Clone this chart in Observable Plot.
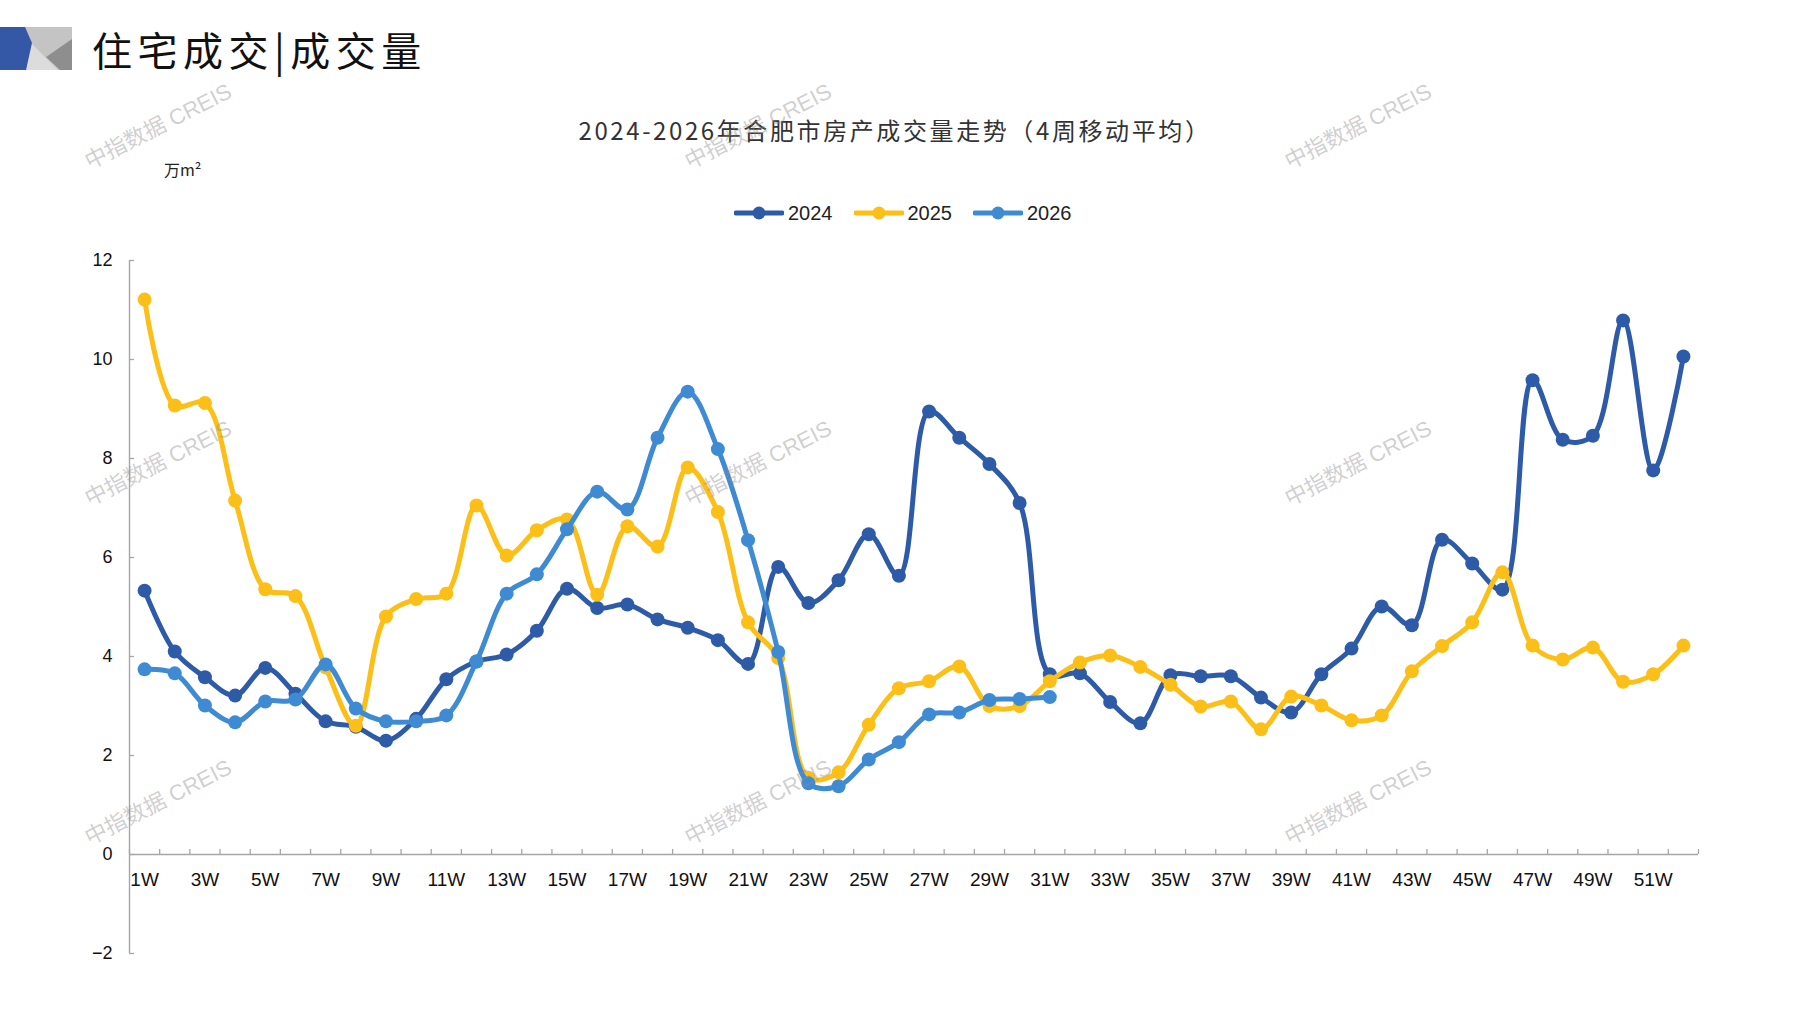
<!DOCTYPE html>
<html>
<head>
<meta charset="utf-8">
<script src="https://cdn.jsdelivr.net/npm/d3@7"></script>
<script src="https://cdn.jsdelivr.net/npm/@observablehq/plot@0.6"></script>
<style>
  html, body { margin: 0; padding: 0; background: #fff; }
  #page { position: relative; width: 1797px; height: 1010px; overflow: hidden; background: #fff; font-family: "Noto Sans CJK SC", "Liberation Sans", sans-serif; }
  .abs { position: absolute; }
  #title { left: 92px; top: 26px; font-size: 40px; line-height: 46px; letter-spacing: 5.5px; color: #111; font-weight: 400; }
  #ctitle { left: 0; width: 1790px; top: 114px; text-align: center; font-size: 24px; line-height: 32px; letter-spacing: 2.6px; color: #333; }
  #unit { left: 164px; top: 158px; font-size: 16px; line-height: 22px; color: #222; }
  #legend { left: 734px; top: 200px; height: 26px; display: flex; align-items: center; font-family: "Liberation Sans Narrow", "Liberation Sans", sans-serif; font-size: 20px; color: #222; }
  .item { display: flex; align-items: center; margin-right: 21px; }
  .item svg { margin-right: 4px; }
  #chart { left: 0; top: 240px; }
  .wm { position: absolute; font-family: "Liberation Sans", "Noto Sans CJK SC", sans-serif; font-size: 22px; color: rgba(140,140,140,0.42); transform: translate(-50%, -50%) rotate(-27deg); white-space: nowrap; pointer-events: none; }
</style>
</head>
<body>
<div id="page">
  <svg class="abs" style="left:0;top:27px" width="72" height="43" viewBox="0 0 72 43">
    <rect x="0" y="0" width="72" height="43" fill="#c4c4c4"/>
    <polygon points="30,15 58,43 26,43" fill="#dcdcdc"/>
    <polygon points="72,12 72,43 60,43 46,30" fill="#8e8e8e"/>
    <polygon points="0,0 25,0 32,16 26,43 0,43" fill="#3457a6"/>
  </svg>
  <div id="title" class="abs">住宅成交|成交量</div>
  <div id="ctitle" class="abs">2024-2026年合肥市房产成交量走势（4周移动平均）</div>
  <div id="unit" class="abs">万m²</div>
  <div id="legend" class="abs"></div>
  <div id="chart" class="abs"></div>
</div>
<script>
// ---- data ----
const years = ["2024", "2025", "2026"];
const colors = ["#2d5ba8", "#fbbf17", "#3f8bd3"];
const weeks = d3.range(1, 53);
const weekLabels = weeks.map(w => w + "W");
const v2024 = [5.33, 4.10, 3.58, 3.21, 3.77, 3.25, 2.69, 2.58, 2.30, 2.74,
               3.54, 3.90, 4.04, 4.52, 5.37, 4.98, 5.05, 4.75, 4.58, 4.33,
               3.85, 5.81, 5.08, 5.54, 6.47, 5.63, 8.95, 8.42, 7.89, 7.10,
               3.64, 3.66, 3.08, 2.65, 3.62, 3.60, 3.60, 3.17, 2.87, 3.64,
               4.16, 5.01, 4.63, 6.36, 5.88, 5.35, 9.58, 8.38, 8.46, 10.79,
               7.76, 10.06];
const v2025 = [11.21, 9.07, 9.12, 7.15, 5.36, 5.22, 3.78, 2.60, 4.81, 5.16,
               5.27, 7.05, 6.04, 6.55, 6.77, 5.25, 6.63, 6.22, 7.82, 6.92,
               4.69, 3.97, 1.55, 1.66, 2.62, 3.36, 3.50, 3.80, 3.00, 3.00,
               3.50, 3.88, 4.02, 3.79, 3.43, 2.99, 3.09, 2.53, 3.19, 3.01,
               2.71, 2.81, 3.70, 4.21, 4.69, 5.70, 4.22, 3.94, 4.18, 3.49,
               3.64, 4.22];
const v2026 = [3.74, 3.66, 3.01, 2.67, 3.09, 3.13, 3.84, 2.95, 2.69, 2.69,
               2.81, 3.90, 5.27, 5.66, 6.57, 7.33, 6.97, 8.42, 9.35, 8.19,
               6.35, 4.09, 1.44, 1.38, 1.92, 2.27, 2.83, 2.87, 3.12, 3.14,
               3.18];
const series = [v2024, v2025, v2026];
const yTicks = [-2, 0, 2, 4, 6, 8, 10, 12];
const labelWeeks = weeks.filter(w => w % 2 === 1);
const xBounds = d3.range(0, 53).map(i => i + 0.5);

const rows = years.flatMap((yr, k) => series[k].map((v, i) => ({year: yr, week: weeks[i], value: v})));

const axisColor = "#a6a6a6";
const xDomain = [0.5, 52.5];

const marks = [
  Plot.ruleX([xDomain[0]], {stroke: axisColor, strokeWidth: 1.4}),
  Plot.ruleY([0], {stroke: axisColor, strokeWidth: 1.4}),
  Plot.ruleX(xBounds, {x: d => d, y1: 0, y2: 0, insetBottom: 5, stroke: axisColor, strokeWidth: 1.3}),
  Plot.ruleY(yTicks, {y: d => d, x1: xDomain[0], x2: xDomain[0], insetRight: -5, stroke: axisColor, strokeWidth: 1.3}),
  Plot.axisY({ticks: yTicks, label: null, tickSize: 0, tickPadding: 17, fill: "#111", fontSize: 18, fontFamily: "Liberation Sans, sans-serif"}),
  Plot.text(labelWeeks, {x: d => d, y: 0, dy: 25, text: d => weekLabels[d - 1], fill: "#111", fontSize: 19, fontFamily: "Liberation Sans Narrow, Liberation Sans, sans-serif"})
];
years.forEach((yr, k) => {
  const data = rows.filter(r => r.year === yr);
  marks.push(Plot.line(data, {x: "week", y: "value", stroke: "year", curve: "catmull-rom", strokeWidth: 5, strokeLinejoin: "round", strokeLinecap: "round"}));
  marks.push(Plot.dot(data, {x: "week", y: "value", fill: "year", r: 7}));
});

const chart = Plot.plot({
  width: 1797, height: 740,
  marginLeft: 129, marginRight: 99, marginTop: 20, marginBottom: 27,
  x: {domain: xDomain, axis: null},
  y: {domain: [-2, 12], axis: null},
  color: {domain: years, range: colors},
  style: {background: "transparent", fontFamily: "Liberation Sans, sans-serif", fontSize: "18px", overflow: "visible"},
  marks
});
document.getElementById("chart").appendChild(chart);

// legend
const legend = document.getElementById("legend");
years.forEach((yr, k) => {
  const item = document.createElement("div");
  item.className = "item";
  item.innerHTML = `<svg width="50" height="16"><line x1="2" y1="8" x2="48" y2="8" stroke="${colors[k]}" stroke-width="5" stroke-linecap="round"/><circle cx="25" cy="8" r="6.5" fill="${colors[k]}"/></svg><span>${yr}</span>`;
  legend.appendChild(item);
});

// watermarks
const page = document.getElementById("page");
[157, 757, 1357].forEach(x => [124, 461, 800].forEach(y => {
  const d = document.createElement("div");
  d.className = "wm";
  d.style.left = x + "px";
  d.style.top = y + "px";
  d.textContent = "中指数据 CREIS";
  page.appendChild(d);
}));
</script>
</body>
</html>
